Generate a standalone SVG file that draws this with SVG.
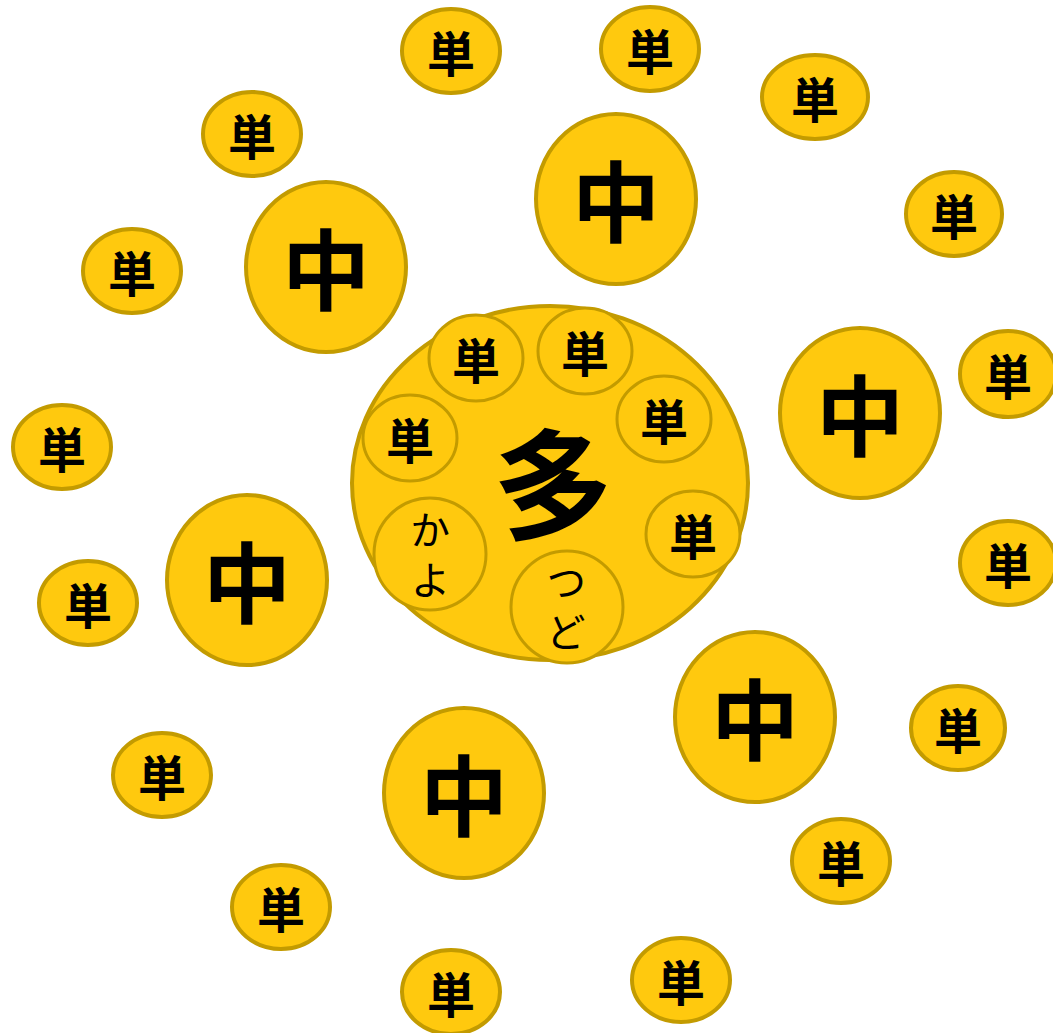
<svg xmlns="http://www.w3.org/2000/svg" width="1053" height="1033" viewBox="0 0 1053 1033">
<style>
.n{fill:#FFC90E;stroke:#C39B00;stroke-width:4}
.i{fill:#FFC90E;stroke:#C39B00;stroke-width:3}
text{font-family:"Noto Sans CJK JP","Noto Sans CJK SC",sans-serif;text-anchor:middle;dominant-baseline:central;fill:#000}
.s{font-size:48px;font-weight:bold}
.m{font-size:88px;font-weight:bold}
.b{font-size:120px;font-weight:bold}
.k{font-size:40px;writing-mode:vertical-rl;letter-spacing:10px}
</style>
<rect width="1053" height="1033" fill="#fff"/>
<g id="connectors"/>
<g id="big">
<ellipse class="n" cx="550" cy="483" rx="198" ry="177"/>
<text class="b" x="553" y="479">多</text>
</g>
<g id="in1"><ellipse class="i" cx="476" cy="358" rx="47" ry="43"/><text class="s" x="476" y="358">単</text></g>
<g id="in2"><ellipse class="i" cx="585" cy="351" rx="47" ry="43"/><text class="s" x="585" y="351">単</text></g>
<g id="in3"><ellipse class="i" cx="664" cy="419" rx="47" ry="43"/><text class="s" x="664" y="419">単</text></g>
<g id="in4"><ellipse class="i" cx="410" cy="438" rx="47" ry="43"/><text class="s" x="410" y="438">単</text></g>
<g id="in5"><ellipse class="i" cx="693" cy="534" rx="47" ry="43"/><text class="s" x="693" y="534">単</text></g>
<g id="in6"><ellipse class="i" cx="430" cy="554" rx="56" ry="56"/><text class="k" x="430" y="560">かよ</text></g>
<g id="in7"><ellipse class="i" cx="567" cy="607" rx="56" ry="56"/><text class="k" x="566" y="612">つど</text></g>
<g id="m1"><ellipse class="n" cx="326" cy="267" rx="80" ry="85"/><text class="m" x="326" y="264">中</text></g>
<g id="m2"><ellipse class="n" cx="616" cy="199" rx="80" ry="85"/><text class="m" x="616" y="196">中</text></g>
<g id="m3"><ellipse class="n" cx="860" cy="413" rx="80" ry="85"/><text class="m" x="860" y="410">中</text></g>
<g id="m4"><ellipse class="n" cx="247" cy="580" rx="80" ry="85"/><text class="m" x="247" y="577">中</text></g>
<g id="m5"><ellipse class="n" cx="755" cy="717" rx="80" ry="85"/><text class="m" x="755" y="714">中</text></g>
<g id="m6"><ellipse class="n" cx="464" cy="793" rx="80" ry="85"/><text class="m" x="464" y="790">中</text></g>
<g id="s1"><ellipse class="n" cx="451" cy="51" rx="49" ry="42"/><text class="s" x="451" y="51">単</text></g>
<g id="s2"><ellipse class="n" cx="650" cy="49" rx="49" ry="42"/><text class="s" x="650" y="49">単</text></g>
<g id="s3"><ellipse class="n" cx="815" cy="97" rx="53" ry="42"/><text class="s" x="815" y="97">単</text></g>
<g id="s4"><ellipse class="n" cx="252" cy="134" rx="49" ry="42"/><text class="s" x="252" y="134">単</text></g>
<g id="s5"><ellipse class="n" cx="954" cy="214" rx="48" ry="42"/><text class="s" x="954" y="214">単</text></g>
<g id="s6"><ellipse class="n" cx="132" cy="271" rx="49" ry="42"/><text class="s" x="132" y="271">単</text></g>
<g id="s7"><ellipse class="n" cx="1008" cy="374" rx="48" ry="43"/><text class="s" x="1008" y="374">単</text></g>
<g id="s8"><ellipse class="n" cx="62" cy="447" rx="49" ry="42"/><text class="s" x="62" y="447">単</text></g>
<g id="s9"><ellipse class="n" cx="1008" cy="563" rx="48" ry="42"/><text class="s" x="1008" y="563">単</text></g>
<g id="s10"><ellipse class="n" cx="88" cy="603" rx="49" ry="42"/><text class="s" x="88" y="603">単</text></g>
<g id="s11"><ellipse class="n" cx="958" cy="728" rx="47" ry="42"/><text class="s" x="958" y="728">単</text></g>
<g id="s12"><ellipse class="n" cx="162" cy="775" rx="49" ry="42"/><text class="s" x="162" y="775">単</text></g>
<g id="s13"><ellipse class="n" cx="841" cy="861" rx="49" ry="42"/><text class="s" x="841" y="861">単</text></g>
<g id="s14"><ellipse class="n" cx="281" cy="907" rx="49" ry="42"/><text class="s" x="281" y="907">単</text></g>
<g id="s15"><ellipse class="n" cx="451" cy="992" rx="49" ry="42"/><text class="s" x="451" y="992">単</text></g>
<g id="s16"><ellipse class="n" cx="681" cy="980" rx="49" ry="42"/><text class="s" x="681" y="980">単</text></g>
</svg>
